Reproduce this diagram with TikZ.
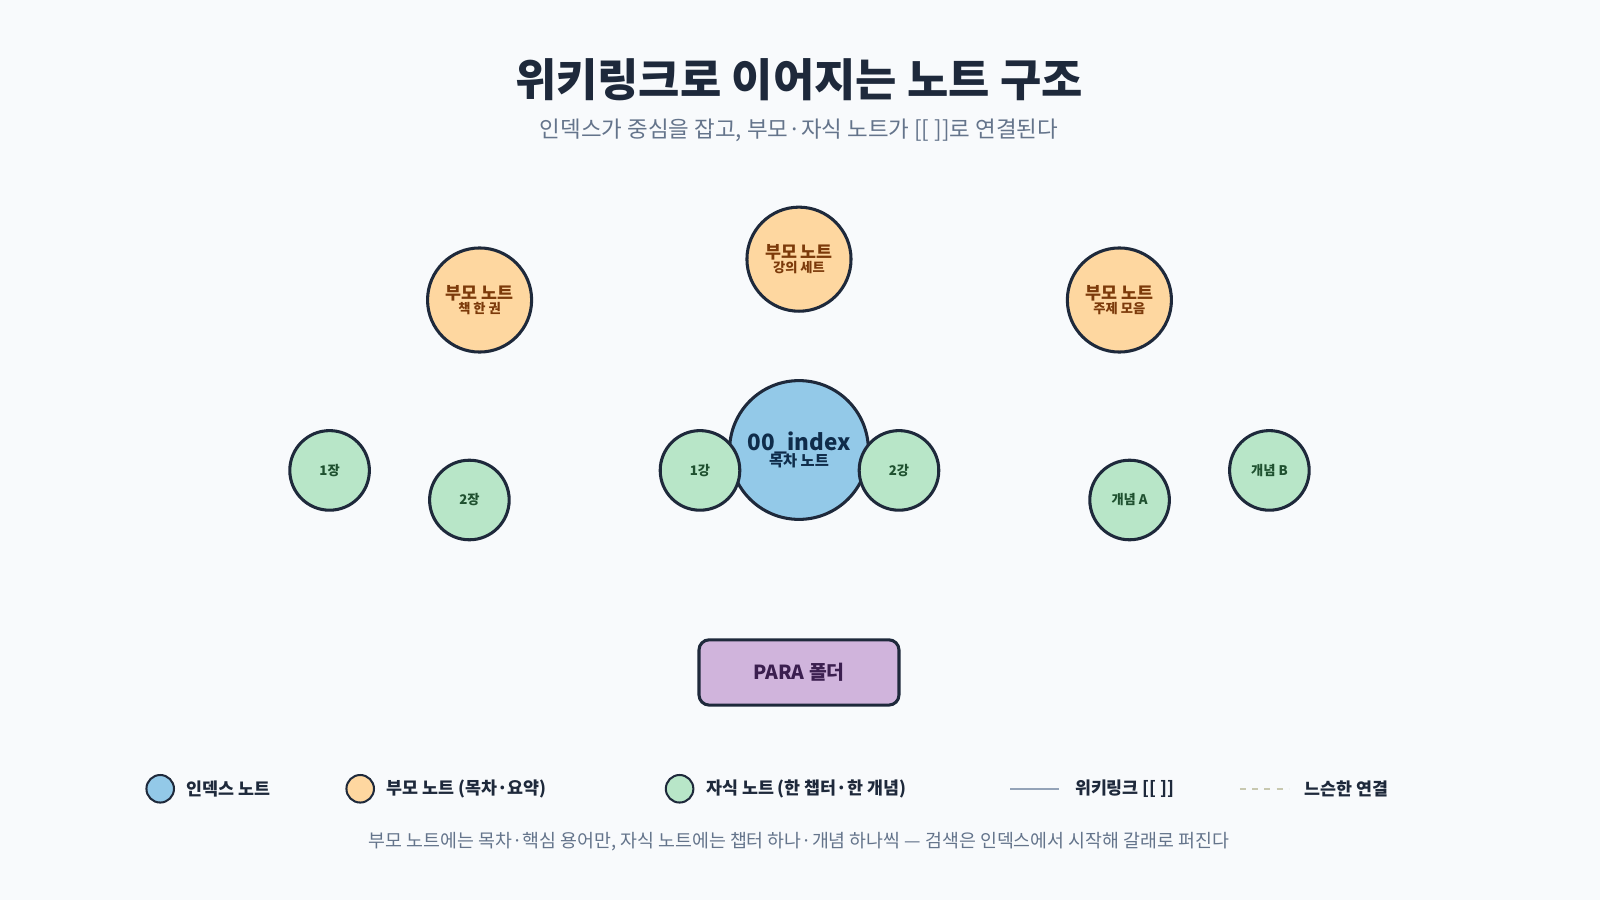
\documentclass[tikz,border=0pt]{standalone}
\usepackage{fontspec}
\setmainfont{Noto Sans CJK KR}
\usetikzlibrary{positioning}
\definecolor{bgc}{HTML}{F8FAFC}
\definecolor{ink}{HTML}{1E293B}
\definecolor{idxfill}{HTML}{93C9E8}
\definecolor{parfill}{HTML}{FED7A0}
\definecolor{kidfill}{HTML}{B8E6C8}
\definecolor{parafill}{HTML}{D0B4DC}
\definecolor{linkc}{HTML}{94A3B8}
\definecolor{loosec}{HTML}{C8C8B0}
\definecolor{grayt}{HTML}{64748B}
\definecolor{partxt}{HTML}{7C3A0A}
\definecolor{kidtxt}{HTML}{1F5130}
\definecolor{idxtxt}{HTML}{0F2C4A}
\definecolor{paratxt}{HTML}{3B1F4F}
\tikzset{
  base/.style={circle, draw=ink, line width=3pt, inner sep=0pt, align=center},
  idx/.style={base, fill=idxfill, minimum size=136pt, text=idxtxt},
  par/.style={base, fill=parfill, minimum size=102pt, text=partxt},
  kid/.style={base, fill=kidfill, minimum size=78pt, text=kidtxt, font=\fontsize{13}{15}\selectfont\bfseries},
  link/.style={linkc, line width=2.5pt},
  loose/.style={loosec, line width=2.5pt, dash pattern=on 6pt off 6pt},
}
\begin{document}
\begin{tikzpicture}[x=1pt, y=-1pt]
    \useasboundingbox[fill=bgc] (0,0) rectangle (1568,882);

    % Title
    \node[font=\fontsize{44}{50}\selectfont\bfseries, text=ink] (title) at (783,78) {위키링크로 이어지는 노트 구조};
    \node[font=\fontsize{22}{26}\selectfont, text=grayt] (sub) at (783,128) {인덱스가 중심을 잡고, 부모·자식 노트가 [[ ]]로 연결된다};

    % Nodes
    \node[idx] (index) at (783,441) {{\fontsize{22}{26}\selectfont\bfseries 00\_index}\\[-2pt]{\fontsize{15}{18}\selectfont\bfseries 목차 노트}};
    \node[par] (book) at (470,294) {{\fontsize{17}{20}\selectfont\bfseries 부모 노트}\\{\fontsize{13}{15}\selectfont\bfseries 책 한 권}};
    \node[par] (lect) at (783,254) {{\fontsize{17}{20}\selectfont\bfseries 부모 노트}\\{\fontsize{13}{15}\selectfont\bfseries 강의 세트}};
    \node[par] (topic) at (1097,294) {{\fontsize{17}{20}\selectfont\bfseries 부모 노트}\\{\fontsize{13}{15}\selectfont\bfseries 주제 모음}};
    \node[kid] (ch1) at (323,461) {1장};
    \node[kid] (ch2) at (460,490) {2장};
    \node[kid] (le1) at (686,461) {1강};
    \node[kid] (le2) at (881,461) {2강};
    \node[kid] (coA) at (1107,490) {개념 A};
    \node[kid] (coB) at (1244,461) {개념 B};
    \node[draw=ink, line width=3pt, fill=parafill, rounded corners=10pt, minimum width=196pt, minimum height=64pt, text=paratxt, font=\fontsize{19}{22}\selectfont\bfseries] (para) at (783,659) {PARA 폴더};

    % Links (behind nodes)
    \begin{scope}[on background layer/.style={}]
    \end{scope}
    \begin{pgfinterruptboundingbox}\end{pgfinterruptboundingbox}

    % Legend
    \node[base, line width=2pt, fill=idxfill, minimum size=27pt] (lg1) at (157,773) {};
    \node[right=8pt of lg1, font=\fontsize{17}{20}\selectfont\bfseries, text=ink] (lt1) {인덱스 노트};
    \node[base, line width=2pt, fill=parfill, minimum size=27pt] (lg2) at (353,773) {};
    \node[right=8pt of lg2, font=\fontsize{17}{20}\selectfont\bfseries, text=ink] (lt2) {부모 노트 (목차·요약)};
    \node[base, line width=2pt, fill=kidfill, minimum size=27pt] (lg3) at (666,773) {};
    \node[right=8pt of lg3, font=\fontsize{17}{20}\selectfont\bfseries, text=ink] (lt3) {자식 노트 (한 챕터·한 개념)};
    \coordinate (l4a) at (990,773);
    \coordinate (l4b) at (1038,773);
    \draw[link] (l4a) -- (l4b);
    \node[right=12pt of l4b, font=\fontsize{17}{20}\selectfont\bfseries, text=ink] (lt4) {위키링크 [[ ]]};
    \coordinate (l5a) at (1215,773);
    \coordinate (l5b) at (1263,773);
    \draw[loose] (l5a) -- (l5b);
    \node[right=12pt of l5b, font=\fontsize{17}{20}\selectfont\bfseries, text=ink] (lt5) {느슨한 연결};

    % Note
    \node[font=\fontsize{18}{22}\selectfont, text=grayt] (note) at (783,825) {부모 노트에는 목차·핵심 용어만, 자식 노트에는 챕터 하나·개념 하나씩 — 검색은 인덱스에서 시작해 갈래로 퍼진다};

    % Connectors drawn under the circles
    \begin{scope}[blend mode=multiply]
    \end{scope}
\end{tikzpicture}
\end{document}
